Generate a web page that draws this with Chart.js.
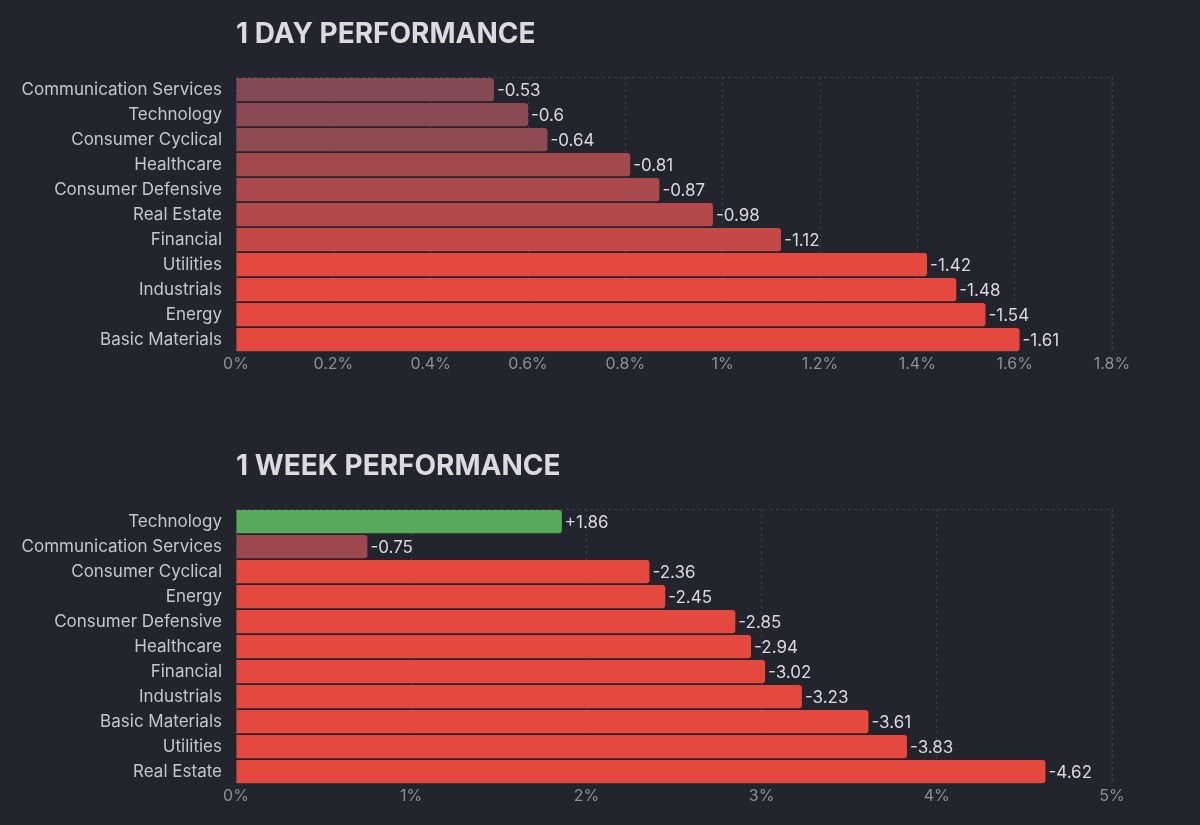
<!DOCTYPE html>
<html>
<head>
<meta charset="utf-8">
<script src="https://cdn.jsdelivr.net/npm/chart.js@4"></script>
<style>
  body { margin: 0; background: #22252d; width: 1200px; height: 825px; overflow: hidden; }
  .box { position: absolute; left: 0; width: 1200px; }
</style>
</head>
<body>
<div class="box" style="top:0;height:400px"><canvas id="dayChart"></canvas></div>
<div class="box" style="top:420px;height:405px"><canvas id="weekChart"></canvas></div>
<script>
// 1 Tag
const dayLabels = ['Communication Services', 'Technology', 'Consumer Cyclical', 'Healthcare', 'Consumer Defensive',
    'Real Estate', 'Financial', 'Utilities', 'Industrials', 'Energy', 'Basic Materials'];
const dayValues = [-0.53, -0.6, -0.64, -0.81, -0.87, -0.98, -1.12, -1.42, -1.48, -1.54, -1.61];
const dayMax = 1.8;
const dayStep = 0.2;

// 1 Woche
const weekLabels = ['Technology', 'Communication Services', 'Consumer Cyclical', 'Energy', 'Consumer Defensive',
    'Healthcare', 'Financial', 'Industrials', 'Basic Materials', 'Utilities', 'Real Estate'];
const weekValues = [1.86, -0.75, -2.36, -2.45, -2.85, -2.94, -3.02, -3.23, -3.61, -3.83, -4.62];
const weekMax = 5;
const weekStep = 1;

function barColor(v) {
    if (v > 0) return '#58a95a';
    const t = Math.min(1, Math.max(0, (Math.abs(v) - 0.5) / 0.92));
    const a = [128, 74, 85], b = [229, 72, 63];
    const c = a.map((x, i) => Math.round(x + (b[i] - x) * t));
    return `rgb(${c[0]},${c[1]},${c[2]})`;
}

const extras = {
    id: 'extras',
    afterDatasetsDraw(chart, args, opts) {
        const { ctx, chartArea } = chart;
        const meta = chart.getDatasetMeta(0);
        const vals = chart.data.datasets[0].raw;
        ctx.save();
        ctx.font = '17px Inter, "Noto Sans", sans-serif';
        ctx.fillStyle = '#d7d9de';
        ctx.textBaseline = 'middle';
        meta.data.forEach((bar, i) => {
            const v = vals[i];
            ctx.fillText((v > 0 ? '+' : '') + v, bar.x + 3, bar.y + 1);
        });
        // dashed frame top and right
        ctx.strokeStyle = '#3b3e47';
        ctx.setLineDash([3, 3]);
        ctx.lineWidth = 1;
        ctx.beginPath();
        ctx.moveTo(chartArea.left, chartArea.top + 0.5);
        ctx.lineTo(chartArea.right, chartArea.top + 0.5);
        ctx.lineTo(chartArea.right, chartArea.bottom);
        ctx.stroke();
        ctx.setLineDash([]);
        // title
        ctx.font = 'bold 28px Inter, "Noto Sans", sans-serif';
        ctx.fillStyle = '#d9dbe0';
        ctx.fillText(opts.text, chartArea.left, opts.y);
        ctx.restore();
    }
};

function createChart(id, labels, values, max, step, title, padTop, padBottom, titleY) {
    const ctx = document.getElementById(id).getContext('2d');
    return new Chart(ctx, {
        type: 'bar',
        data: {
            labels: labels,
            datasets: [{
                data: values.map(v => Math.abs(v)),
                raw: values,
                backgroundColor: values.map(barColor),
                borderRadius: 3,
                borderSkipped: 'start',
                barPercentage: 0.93,
                categoryPercentage: 1
            }]
        },
        options: {
            indexAxis: 'y',
            responsive: true,
            maintainAspectRatio: false,
            animation: false,
            layout: { padding: { top: padTop, bottom: padBottom, right: 88, left: 0 } },
            plugins: { legend: { display: false }, tooltip: { enabled: false }, extras: { text: title, y: titleY } },
            scales: {
                x: {
                    min: 0, max: max,
                    afterFit: s => { s.height = 30; },
                    ticks: {
                        stepSize: step,
                        color: '#8b909a',
                        font: { size: 16, family: 'Inter, "Noto Sans", sans-serif' },
                        callback: v => (Math.round(v * 10) / 10) + '%'
                    },
                    grid: { color: '#3b3e47', drawTicks: false },
                    border: { display: false, dash: [3, 3] }
                },
                y: {
                    afterFit: s => { s.width = 236; },
                    ticks: {
                        color: '#c4c7ce',
                        padding: 6,
                        font: { size: 17, family: 'Inter, "Noto Sans", sans-serif' }
                    },
                    grid: { display: false },
                    border: { display: false }
                }
            }
        },
        plugins: [extras]
    });
}

createChart('dayChart', dayLabels, dayValues, dayMax, dayStep, '1 DAY PERFORMANCE', 77, 18, 35);
createChart('weekChart', weekLabels, weekValues, weekMax, weekStep, '1 WEEK PERFORMANCE', 89, 11, 47);
</script>
</body>
</html>
